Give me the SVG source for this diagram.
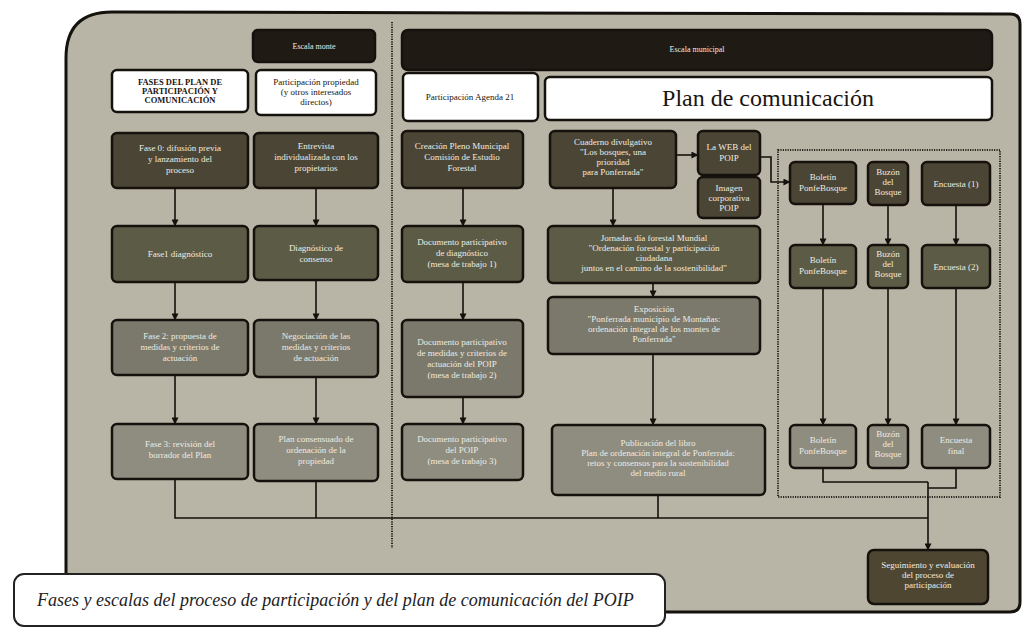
<svg xmlns="http://www.w3.org/2000/svg" width="1026" height="630" viewBox="0 0 1026 630">
<defs>
<marker id="ah" viewBox="0 0 8 8" refX="7.5" refY="4" markerWidth="7" markerHeight="7" markerUnits="userSpaceOnUse" orient="auto">
<path d="M0,0 L8,4 L0,8 Z" fill="#15110c"/>
</marker>
<style>
.box{stroke:#15110c;stroke-width:2.5}
.d0{fill:#1f1a14}
.d1{fill:#4a4535}
.d2{fill:#5c5b46}
.d3{fill:#7b796b}
.d4{fill:#8f8d80}
.dw{fill:#ffffff}
.ds{fill:#4f4632}
.t{font-family:"Liberation Serif",serif;font-size:9px;fill:#eeebe0;text-anchor:middle}
.th{font-family:"Liberation Serif",serif;font-size:9px;fill:#1a1510;text-anchor:middle}
.tb{font-family:"Liberation Serif",serif;font-size:8.5px;font-weight:bold;fill:#1a1510;text-anchor:middle}
.ln{fill:none;stroke:#15110c;stroke-width:1.6}
.dot{fill:none;stroke:#2a2620;stroke-width:2;stroke-dasharray:1.2,1.2}
</style>
</defs>
<rect width="1026" height="630" fill="#ffffff"/>
<path d="M66,612 L66,58 Q66,12 112,12 L1010,14 Q1020,14 1020,24 L1020,602 Q1020,612 1010,612 Z" fill="#b8b5a6" stroke="#15110c" stroke-width="3"/>
<line class="dot" x1="392" y1="22" x2="392" y2="548"/>
<rect class="dot" x="778" y="150" width="222" height="347"/>

<g id="connectors">
<path class="ln" marker-end="url(#ah)" d="M175,188 V226"/>
<path class="ln" marker-end="url(#ah)" d="M175,282 V320"/>
<path class="ln" marker-end="url(#ah)" d="M175,375 V424"/>
<path class="ln" marker-end="url(#ah)" d="M316,188 V226"/>
<path class="ln" marker-end="url(#ah)" d="M316,280 V320"/>
<path class="ln" marker-end="url(#ah)" d="M316,377 V424"/>
<path class="ln" marker-end="url(#ah)" d="M463,188 V226"/>
<path class="ln" marker-end="url(#ah)" d="M463,282 V320"/>
<path class="ln" marker-end="url(#ah)" d="M463,397 V424"/>
<path class="ln" marker-end="url(#ah)" d="M613,188 V226"/>
<path class="ln" marker-end="url(#ah)" d="M653,283 V297"/>
<path class="ln" marker-end="url(#ah)" d="M653,354 V425"/>
<path class="ln" marker-end="url(#ah)" d="M676,155 H698"/>
<path class="ln" marker-end="url(#ah)" d="M760,157 H771 V182 H790"/>
<path class="ln" marker-end="url(#ah)" d="M823,204 V245"/>
<path class="ln" marker-end="url(#ah)" d="M823,288 V425"/>
<path class="ln" marker-end="url(#ah)" d="M888,205 V245"/>
<path class="ln" marker-end="url(#ah)" d="M888,288 V425"/>
<path class="ln" marker-end="url(#ah)" d="M956,205 V245"/>
<path class="ln" marker-end="url(#ah)" d="M956,288 V425"/>
<path class="ln" d="M823,468 V482 H928"/>
<path class="ln" d="M956,468 V488 H928"/>
<path class="ln" d="M175,479 V518 H928"/>
<path class="ln" d="M316,481 V518"/>
<path class="ln" d="M658,495 V518"/>
<path class="ln" marker-end="url(#ah)" d="M928,482 V550"/>
</g>

<g id="escala-monte"><rect class="box d0" x="253" y="30" width="122" height="32" rx="5"/><text class="t" x="314" y="49" style="font-size:8px">Escala monte</text></g>
<g id="escala-municipal"><rect class="box d0" x="402" y="30" width="590" height="40" rx="6"/><text class="t" x="697" y="52" style="font-size:8px">Escala municipal</text></g>
<g id="h-fases"><rect class="box dw" x="112" y="70" width="136" height="42" rx="5"/><text class="tb" x="180" y="85">FASES DEL PLAN DE</text><text class="tb" x="180" y="94">PARTICIPACIÓN Y</text><text class="tb" x="180" y="103">COMUNICACIÓN</text></g>
<g id="h-propiedad"><rect class="box dw" x="256" y="70" width="120" height="45" rx="5"/><text class="th" x="316" y="85">Participación propiedad</text><text class="th" x="316" y="95">(y otros interesados</text><text class="th" x="316" y="105">directos)</text></g>
<g id="h-agenda"><rect class="box dw" x="403" y="73" width="135" height="48" rx="5"/><text class="th" x="470" y="100">Participación Agenda 21</text></g>
<g id="h-plan"><rect class="box dw" x="545" y="77" width="447" height="43" rx="5"/><text class="th" x="768" y="106" style="font-size:24px">Plan de comunicación</text></g>

<g id="fase0"><rect class="box d1" x="112" y="133" width="136" height="55" rx="5"/><text class="t" x="180" y="151">Fase 0: difusión previa</text><text class="t" x="180" y="162">y lanzamiento del</text><text class="t" x="180" y="173">proceso</text></g>
<g id="fase1"><rect class="box d2" x="112" y="226" width="136" height="56" rx="5"/><text class="t" x="180" y="257">Fase1 diagnóstico</text></g>
<g id="fase2"><rect class="box d3" x="112" y="320" width="136" height="55" rx="5"/><text class="t" x="180" y="339">Fase 2: propuesta de</text><text class="t" x="180" y="350">medidas y criterios de</text><text class="t" x="180" y="361">actuación</text></g>
<g id="fase3"><rect class="box d4" x="112" y="424" width="136" height="55" rx="5"/><text class="t" x="180" y="447">Fase 3: revisión del</text><text class="t" x="180" y="458">borrador del Plan</text></g>

<g id="entrevista"><rect class="box d1" x="254" y="133" width="124" height="55" rx="5"/><text class="t" x="316" y="149">Entrevista</text><text class="t" x="316" y="160">individualizada con los</text><text class="t" x="316" y="171">propietarios</text></g>
<g id="diagnostico"><rect class="box d2" x="254" y="226" width="124" height="54" rx="5"/><text class="t" x="316" y="251">Diagnóstico de</text><text class="t" x="316" y="262">consenso</text></g>
<g id="negociacion"><rect class="box d3" x="254" y="320" width="124" height="57" rx="5"/><text class="t" x="316" y="339">Negociación de las</text><text class="t" x="316" y="350">medidas y criterios</text><text class="t" x="316" y="361">de actuación</text></g>
<g id="plan-consensuado"><rect class="box d4" x="254" y="424" width="124" height="57" rx="5"/><text class="t" x="316" y="442">Plan consensuado de</text><text class="t" x="316" y="453">ordenación de la</text><text class="t" x="316" y="464">propiedad</text></g>

<g id="creacion"><rect class="box d1" x="402" y="131" width="121" height="57" rx="5"/><text class="t" x="462" y="149">Creación Pleno Municipal</text><text class="t" x="462" y="160">Comisión de Estudio</text><text class="t" x="462" y="171">Forestal</text></g>
<g id="doc1"><rect class="box d2" x="402" y="226" width="121" height="56" rx="5"/><text class="t" x="462" y="245">Documento participativo</text><text class="t" x="462" y="256">de diagnóstico</text><text class="t" x="462" y="267">(mesa de trabajo 1)</text></g>
<g id="doc2"><rect class="box d3" x="402" y="320" width="121" height="77" rx="5"/><text class="t" x="462" y="345">Documento participativo</text><text class="t" x="462" y="356">de medidas y criterios de</text><text class="t" x="462" y="367">actuación del POIP</text><text class="t" x="462" y="378">(mesa de trabajo 2)</text></g>
<g id="doc3"><rect class="box d4" x="402" y="424" width="121" height="56" rx="5"/><text class="t" x="462" y="442">Documento participativo</text><text class="t" x="462" y="453">del POIP</text><text class="t" x="462" y="464">(mesa de trabajo 3)</text></g>

<g id="cuaderno"><rect class="box d1" x="550" y="131" width="126" height="57" rx="5"/><text class="t" x="613" y="145">Cuaderno divulgativo</text><text class="t" x="613" y="155">"Los bosques, una</text><text class="t" x="613" y="165">prioridad</text><text class="t" x="613" y="175">para Ponferrada"</text></g>
<g id="web"><rect class="box d1" x="698" y="131" width="62" height="44" rx="5"/><text class="t" x="729" y="150">La WEB del</text><text class="t" x="729" y="161">POIP</text></g>
<g id="imagen"><rect class="box d1" x="698" y="177" width="62" height="41" rx="5"/><text class="t" x="729" y="191">Imagen</text><text class="t" x="729" y="201">corporativa</text><text class="t" x="729" y="211">POIP</text></g>
<g id="jornadas"><rect class="box d2" x="548" y="226" width="212" height="57" rx="5"/><text class="t" x="654" y="241">Jornadas día forestal Mundial</text><text class="t" x="654" y="251">"Ordenación forestal y participación</text><text class="t" x="654" y="261">ciudadana</text><text class="t" x="654" y="271">juntos en el camino de la sostenibilidad"</text></g>
<g id="exposicion"><rect class="box d3" x="548" y="297" width="212" height="57" rx="5"/><text class="t" x="654" y="312">Exposición</text><text class="t" x="654" y="322">"Ponferrada municipio de Montañas:</text><text class="t" x="654" y="332">ordenación integral de los montes de</text><text class="t" x="654" y="342">Ponferrada"</text></g>
<g id="publicacion"><rect class="box d4" x="552" y="425" width="213" height="70" rx="5"/><text class="t" x="658" y="446">Publicación del libro</text><text class="t" x="658" y="456">Plan de ordenación integral de Ponferrada:</text><text class="t" x="658" y="466">retos y consensos para la sostenibilidad</text><text class="t" x="658" y="476">del medio rural</text></g>

<g id="boletin1"><rect class="box d1" x="790" y="162" width="66" height="42" rx="5"/><text class="t" x="823" y="180">Boletín</text><text class="t" x="823" y="191">PonfeBosque</text></g>
<g id="buzon1"><rect class="box d1" x="868" y="162" width="40" height="43" rx="5"/><text class="t" x="888" y="175">Buzón</text><text class="t" x="888" y="185">del</text><text class="t" x="888" y="195">Bosque</text></g>
<g id="encuesta1"><rect class="box d1" x="922" y="162" width="68" height="43" rx="5"/><text class="t" x="956" y="187">Encuesta (1)</text></g>
<g id="boletin2"><rect class="box d2" x="790" y="245" width="66" height="43" rx="5"/><text class="t" x="823" y="263">Boletín</text><text class="t" x="823" y="274">PonfeBosque</text></g>
<g id="buzon2"><rect class="box d2" x="868" y="245" width="40" height="43" rx="5"/><text class="t" x="888" y="257">Buzón</text><text class="t" x="888" y="267">del</text><text class="t" x="888" y="277">Bosque</text></g>
<g id="encuesta2"><rect class="box d2" x="922" y="245" width="68" height="43" rx="5"/><text class="t" x="956" y="270">Encuesta (2)</text></g>
<g id="boletin3"><rect class="box d4" x="790" y="425" width="66" height="43" rx="5"/><text class="t" x="823" y="443">Boletín</text><text class="t" x="823" y="454">PonfeBosque</text></g>
<g id="buzon3"><rect class="box d4" x="868" y="425" width="40" height="43" rx="5"/><text class="t" x="888" y="437">Buzón</text><text class="t" x="888" y="447">del</text><text class="t" x="888" y="457">Bosque</text></g>
<g id="encuesta3"><rect class="box d4" x="922" y="425" width="68" height="43" rx="5"/><text class="t" x="956" y="443">Encuesta</text><text class="t" x="956" y="454">final</text></g>

<g id="seguimiento"><rect class="box ds" x="868" y="550" width="120" height="54" rx="6"/><text class="t" x="928" y="568">Seguimiento y evaluación</text><text class="t" x="928" y="578">del proceso de</text><text class="t" x="928" y="588">participación</text></g>

<g id="caption"><rect x="14" y="574" width="651" height="52" rx="10" fill="#ffffff" stroke="#222" stroke-width="2"/><text x="37" y="606" style="font-family:'Liberation Serif',serif;font-style:italic;font-size:18px;fill:#222">Fases y escalas del proceso de participación y del plan de comunicación del POIP</text></g>
</svg>
